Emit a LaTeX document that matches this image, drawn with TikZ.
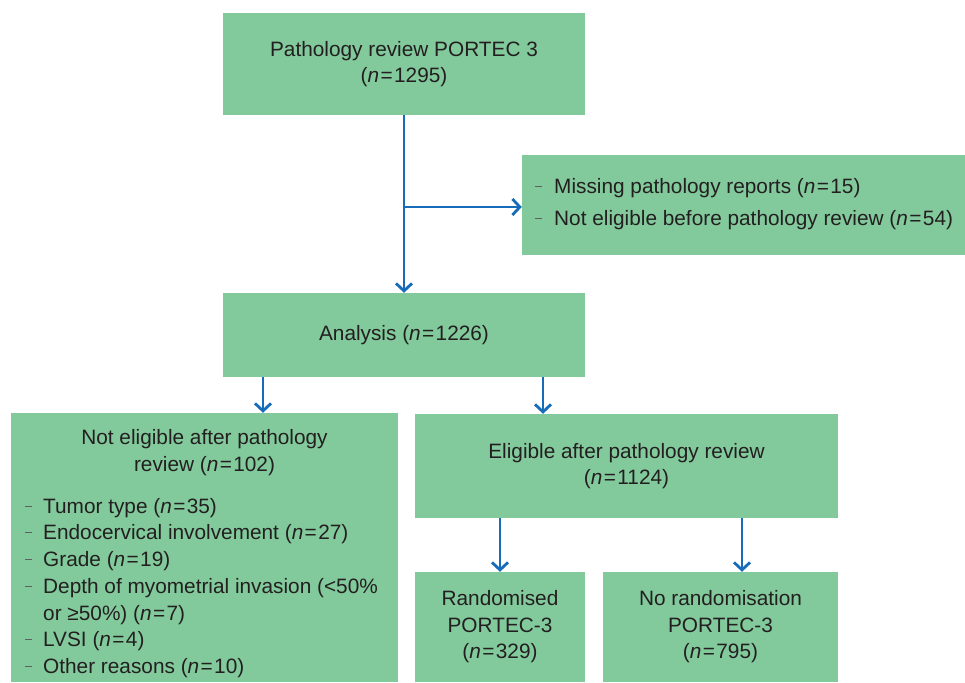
\documentclass[tikz,border=0pt]{standalone}
\usepackage{fontspec}
\setmainfont{Liberation Sans}
\usetikzlibrary{arrows.meta}
\definecolor{boxgreen}{RGB}{130,202,156}
\definecolor{arrowblue}{RGB}{22,108,184}
\definecolor{txtcol}{RGB}{35,31,32}
\definecolor{dashgray}{RGB}{95,95,95}
\newcommand{\dashitem}[2][18pt]{\makebox[#1][l]{\textcolor{dashgray}{\rule[0.33em]{7pt}{0.9pt}}}#2}
\newcommand{\nq}{\textit{n}\kern1.4pt=\kern1.4pt}
\begin{document}
\begin{tikzpicture}[x=1pt,y=-1pt,
  box/.style={fill=boxgreen, draw=none, inner sep=0pt, text=txtcol, align=center,
    font=\fontsize{20.8}{26.5}\selectfont},
  lbl/.style={inner sep=0pt, text=txtcol, font=\fontsize{20.8}{26.5}\selectfont},
  arr/.style={draw=arrowblue, line width=2.8pt, -{Straight Barb[length=7.5pt,width=16pt]}}]
\useasboundingbox (0,0) rectangle (965,682);

% boxes
\node[box, minimum width=362, minimum height=102] (top) at (404,64)
  {Pathology review PORTEC 3\\(\nq1295)};
\node[box, minimum width=443, minimum height=100] (excl) at (743.5,205) {};
\node[box, minimum width=362, minimum height=84] (analysis) at (404,335)
  {Analysis (\nq1226)};
\node[box, minimum width=387, minimum height=269] (noteleg) at (204.5,547.5) {};
\node[box, minimum width=423, minimum height=104] (eleg) at (626.5,466)
  {Eligible after pathology review\\(\nq1124)};
\node[box, minimum width=170, minimum height=110] (rand) at (500,627)
  {Randomised\\PORTEC-3\\(\nq329)};
\node[box, minimum width=235, minimum height=110] (norand) at (720.5,627)
  {No randomisation\\PORTEC-3\\(\nq795)};

% texts of list boxes
\node[lbl, align=left, anchor=west, font=\fontsize{20.8}{32}\selectfont] (excltext) at (535,204)
  {\dashitem[19pt]{Missing pathology reports (\nq15)}\\
   \dashitem[19pt]{Not eligible before pathology review (\nq54)}};
\node[lbl, align=center] (nehead) at (204.5,452.5)
  {Not eligible after pathology\\review (\nq102)};
\node[lbl, align=left, anchor=west, font=\fontsize{20.8}{26.7}\selectfont] (nelist) at (25,588)
  {\dashitem{Tumor type (\nq35)}\\
   \dashitem{Endocervical involvement (\nq27)}\\
   \dashitem{Grade (\nq19)}\\
   \dashitem{Depth of myometrial invasion (<50\%}\\
   \hspace*{18pt}or ≥50\%) (\nq7)\\
   \dashitem{LVSI (\nq4)}\\
   \dashitem{Other reasons (\nq10)}};

% connectors
\coordinate (br) at (404,207);
\coordinate (xl) at (263,0);
\coordinate (xe) at (543,0);
\coordinate (xn) at (742,0);
\draw[arr] (top.south) -- (analysis.north);
\draw[arr] (br) -- (br -| excl.west);
\draw[arr] (analysis.south -| xl) -- (noteleg.north -| xl);
\draw[arr] (analysis.south -| xe) -- (eleg.north -| xe);
\draw[arr] (eleg.south -| rand.north) -- (rand.north);
\draw[arr] (eleg.south -| xn) -- (norand.north -| xn);
\end{tikzpicture}
\end{document}
